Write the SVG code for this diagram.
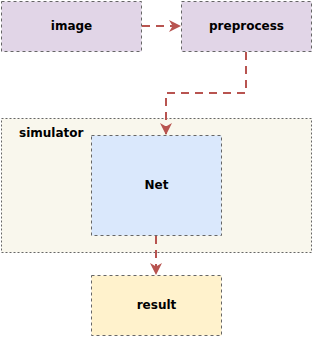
<svg xmlns="http://www.w3.org/2000/svg" width="314" height="338" viewBox="0 0 314 338">
<defs>
<style>
.n{stroke:#666;stroke-width:1;stroke-dasharray:3,3}
.c{fill:#f9f7ed;stroke:#666;stroke-width:1;stroke-dasharray:2,2}
.t{font-family:"DejaVu Sans",sans-serif;font-weight:bold;font-size:12px;fill:#000}
.e{fill:none;stroke:#b85450;stroke-width:2;stroke-dasharray:8,6}
</style>
<marker id="a" viewBox="0 0 10 10" refX="10" refY="5" markerWidth="14" markerHeight="12" markerUnits="userSpaceOnUse" orient="auto">
<path d="M0,0 L10,5 L0,10 L3,5 Z" fill="#b85450"/>
</marker>
</defs>
<g id="simulator">
<rect class="c" x="1.5" y="118.5" width="310" height="134"/>
<text class="t" x="19" y="137">simulator</text>
</g>
<g id="image">
<rect class="n" x="1.5" y="1.5" width="140" height="50" fill="#e1d5e7"/>
<text class="t" x="71.5" y="30" text-anchor="middle">image</text>
</g>
<g id="preprocess">
<rect class="n" x="181.5" y="1.5" width="130" height="50" fill="#e1d5e7"/>
<text class="t" x="246.5" y="30" text-anchor="middle">preprocess</text>
</g>
<g id="net">
<rect class="n" x="91.5" y="135.5" width="130" height="100" fill="#dae8fc"/>
<text class="t" x="156.5" y="189" text-anchor="middle">Net</text>
</g>
<g id="result">
<rect class="n" x="91.5" y="275.5" width="130" height="60" fill="#fff2cc"/>
<text class="t" x="156.5" y="309" text-anchor="middle">result</text>
</g>
<g id="connectors">
<path class="e" d="M142,26 L181,26" marker-end="url(#a)"/>
<path class="e" d="M246,52 L246,93 L166,93 L166,135" marker-end="url(#a)"/>
<path class="e" d="M156,236 L156,275" marker-end="url(#a)"/>
</g>
</svg>
